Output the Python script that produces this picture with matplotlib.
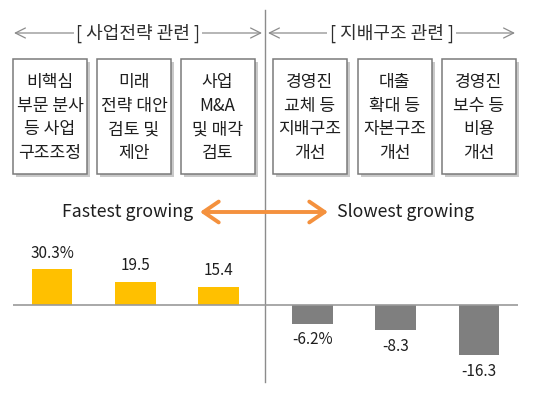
"""
Bar chart of growth rates grouped by shareholder-proposal type.
"""

import numpy as np
import matplotlib.pyplot as plt
from matplotlib.patches import Rectangle

plt.rcParams["font.family"] = ["Noto Sans CJK KR", "DejaVu Sans"]
plt.rcParams["font.weight"] = "medium"

# data
group_titles = ["[ 사업전략 관련 ]", "[ 지배구조 관련 ]"]
box_lines = [
    ["비핵심", "부문 분사", "등 사업", "구조조정"],
    ["미래", "전략 대안", "검토 및", "제안"],
    ["사업", "M&A", "및 매각", "검토"],
    ["경영진", "교체 등", "지배구조", "개선"],
    ["대출", "확대 등", "자본구조", "개선"],
    ["경영진", "보수 등", "비용", "개선"],
]
values = [30.3, 19.5, 15.4, -6.2, -8.3, -16.3]
pct_flags = [True, False, False, True, False, False]
left_label = "Fastest growing"
right_label = "Slowest growing"

YELLOW = "#FFC000"
GRAY = "#7F7F7F"
LINE = "#8c8c8c"
TEXT = "#1e1e1e"
NEG_FACTOR = 2.65  # the source draws negatives on a stretched scale

fig = plt.figure(figsize=(5.4, 3.94), dpi=100)

# background layer in pixel coordinates
ax_bg = fig.add_axes([0, 0, 1, 1])
ax_bg.set_xlim(0, 540)
ax_bg.set_ylim(394, 0)
ax_bg.axis("off")

# divider
ax_bg.plot([265, 265], [10, 382], color=LINE, lw=1, zorder=1)

# group headers with arrows
for (x0, x1), title in zip([(14, 262), (268, 515)], group_titles):
    ax_bg.annotate(
        "",
        xy=(x0, 33),
        xytext=(x1, 33),
        arrowprops=dict(
            arrowstyle="<->", color=LINE, lw=0.9,
            mutation_scale=18, shrinkA=0, shrinkB=0,
        ),
    )
    ax_bg.text(
        (x0 + x1) / 2, 33, title, ha="center", va="center",
        fontsize=13, color="#2e2e2e",
        bbox=dict(fc="white", ec="none", pad=1.5),
    )

# text boxes
box_centers = [50, 134, 217.5, 310, 394.5, 479]
box_w, box_top, box_h = 74, 59, 115
for cx, lines in zip(box_centers, box_lines):
    ax_bg.add_patch(Rectangle(
        (cx - box_w / 2 + 3, box_top + 3), box_w, box_h,
        fc="#c9c9c9", ec="none", zorder=2,
    ))
    ax_bg.add_patch(Rectangle(
        (cx - box_w / 2, box_top), box_w, box_h,
        fc="white", ec="#7a7a7a", lw=1.1, zorder=3,
    ))
    for i, line in enumerate(lines):
        ax_bg.text(
            cx, 82 + 23.7 * i, line, ha="center", va="center",
            fontsize=12.3, color=TEXT, zorder=4,
        )

# fastest / slowest arrow
ax_bg.annotate(
    "",
    xy=(200, 212),
    xytext=(328, 212),
    arrowprops=dict(
        arrowstyle="<->,head_length=1.1,head_width=0.75",
        color="#F4913E", lw=2.8, mutation_scale=10,
        shrinkA=0, shrinkB=0,
    ),
    zorder=5,
)
ax_bg.text(193, 212, left_label, ha="right", va="center",
           fontsize=12.8, color=TEXT)
ax_bg.text(337, 212, right_label, ha="left", va="center",
           fontsize=12.8, color=TEXT)

# bars
ax = fig.add_axes([13 / 540, 4 / 394, 505 / 540, 160 / 394])
ax.patch.set_alpha(0)


def fwd(v):
    v = np.asarray(v, dtype=float)
    return np.where(v < 0, v * NEG_FACTOR, v)


def inv(v):
    v = np.asarray(v, dtype=float)
    return np.where(v < 0, v / NEG_FACTOR, v)


ax.set_yscale("function", functions=(fwd, inv))

x = np.array([0, 1, 2, 3.13, 4.13, 5.13])
colors = [YELLOW if v > 0 else GRAY for v in values]
ax.bar(x, values, width=0.49, color=colors, zorder=2)
ax.axhline(0, color="#9a9a9a", lw=1.2, zorder=3)

for xi, v, pct in zip(x, values, pct_flags):
    label = f"{v:.1f}" + ("%" if pct else "")
    ax.annotate(
        label,
        (xi, v),
        xytext=(0, 11.5 if v > 0 else -11.5),
        textcoords="offset points",
        ha="center",
        va="center",
        fontsize=11,
        color=TEXT,
    )

ax.set_xlim(-0.47, 5.6)
ax.set_ylim(-27.5, 63.8)
ax.axis("off")

fig.savefig("out.png", dpi=100)
plt.close(fig)
